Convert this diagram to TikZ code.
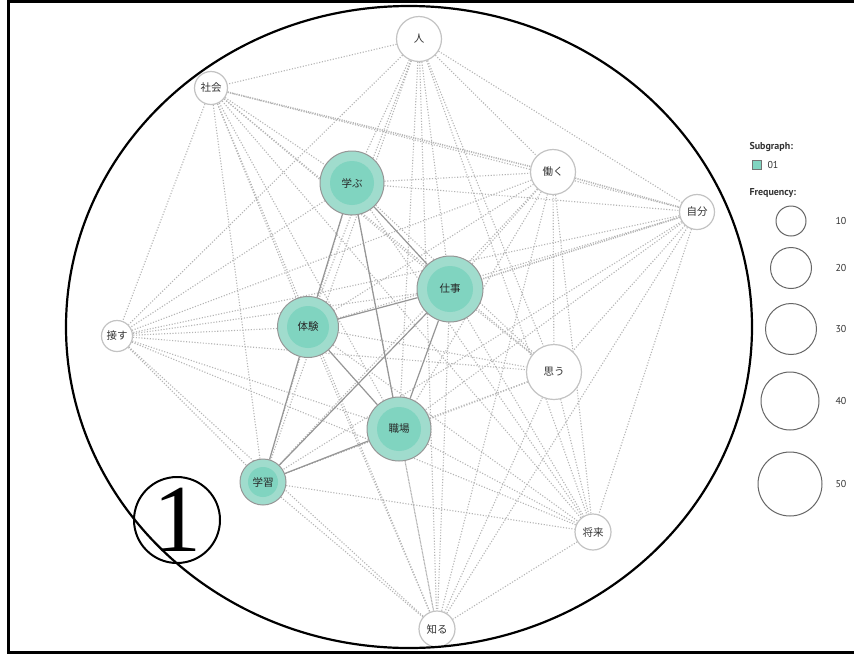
\documentclass[tikz,border=0pt]{standalone}
\usepackage{fontspec}
\setmainfont{Liberation Serif}
\newfontfamily\jp{Noto Sans CJK JP}
\newfontfamily\legfont{PT Sans}
\usetikzlibrary{backgrounds}
\definecolor{tealout}{RGB}{160,220,205}
\definecolor{tealin}{RGB}{128,212,192}
\definecolor{nodeborder}{RGB}{150,150,150}
\definecolor{wborder}{RGB}{195,195,195}
\definecolor{edgegray}{RGB}{180,180,180}
\definecolor{solidgray}{RGB}{150,150,150}
\tikzset{
  wnode/.style={circle, draw=wborder, line width=1.2pt, fill=white, inner sep=0pt, minimum size=#1, font=\jp\fontsize{10.5}{10.5}\selectfont, text=black!80},
  tnode/.style 2 args={circle, draw=nodeborder, line width=1pt, fill=tealout, inner sep=0pt, minimum size=#1, font=\jp\fontsize{10.5}{10.5}\selectfont, text=black!85,
    path picture={\fill[tealin] (path picture bounding box.center) circle (#2);}},
  dotedge/.style={draw=edgegray, line width=1.1pt, dash pattern=on 1.1pt off 1.7pt},
  thickdot/.style={draw=edgegray, line width=1.6pt, dash pattern=on 1.1pt off 1.2pt},
  soledge/.style={draw=solidgray, line width=1.2pt},
  legcirc/.style={circle, draw=black!60, line width=1pt, inner sep=0pt, minimum size=#1},
  legtext/.style={font=\legfont\fontsize{10}{10}\selectfont, text=black!80, anchor=west},
  leghead/.style={font=\legfont\bfseries\fontsize{10}{10}\selectfont, text=black!80, anchor=west}
}
\begin{document}
\begin{tikzpicture}[x=1pt,y=-1pt]
\useasboundingbox (0,0) rectangle (854,654);
% nodes
\node[wnode=45pt] (hito) at (419,39) {人};
\node[wnode=33pt] (shakai) at (211,88) {社会};
\node[tnode={64pt}{22pt}] (manabu) at (352,183) {学ぶ};
\node[wnode=45pt] (hataraku) at (553,172) {働く};
\node[wnode=35pt] (jibun) at (697,212) {自分};
\node[tnode={66pt}{23pt}] (shigoto) at (450,289) {仕事};
\node[tnode={61pt}{21pt}] (taiken) at (308,327) {体験};
\node[wnode=31pt] (sessu) at (117,336) {接す};
\node[wnode=55pt] (omou) at (554,372) {思う};
\node[tnode={64pt}{22pt}] (shokuba) at (399,429) {職場};
\node[tnode={46pt}{15pt}] (gakushu) at (263,482) {学習};
\node[wnode=36pt] (shourai) at (593,532) {将来};
\node[wnode=36pt] (shiru) at (437,629) {知る};
% edges
\begin{scope}[on background layer]
\fill[white] (0,0) rectangle (854,654);
\foreach \a/\b in {
hito/shakai,hito/manabu,hito/hataraku,hito/jibun,hito/shigoto,hito/taiken,hito/sessu,hito/omou,hito/shokuba,hito/gakushu,hito/shourai,hito/shiru,
shakai/manabu,shakai/shigoto,shakai/taiken,shakai/sessu,shakai/omou,shakai/shokuba,shakai/gakushu,shakai/shourai,shakai/shiru,shakai/jibun,
manabu/hataraku,manabu/jibun,manabu/sessu,manabu/omou,manabu/gakushu,manabu/shourai,manabu/shiru,
hataraku/shigoto,hataraku/taiken,hataraku/sessu,hataraku/omou,hataraku/shokuba,hataraku/gakushu,hataraku/shourai,hataraku/shiru,
jibun/taiken,jibun/sessu,jibun/omou,jibun/shokuba,jibun/gakushu,jibun/shourai,jibun/shiru,
shigoto/sessu,shigoto/omou,shigoto/shourai,shigoto/shiru,
taiken/sessu,taiken/omou,taiken/shourai,taiken/shiru,
sessu/omou,sessu/shokuba,sessu/gakushu,sessu/shourai,sessu/shiru,
omou/shokuba,omou/gakushu,omou/shourai,omou/shiru,
shokuba/shourai,shokuba/shiru,
gakushu/shourai,gakushu/shiru,
shourai/shiru}
  \draw[dotedge] (\a) -- (\b);
\draw[thickdot] (shakai) -- (hataraku);
\draw[thickdot] (hataraku) -- (jibun);
\draw[thickdot] (jibun) -- (shigoto);
\foreach \a/\b in {manabu/taiken,manabu/shokuba,manabu/shigoto,taiken/shigoto,shigoto/shokuba,shigoto/gakushu,taiken/shokuba,taiken/gakushu,shokuba/gakushu}
  \draw[soledge] (\a) -- (\b);
\end{scope}
% big ellipse
\draw[black, line width=2.2pt] (409,327) ellipse [x radius=343pt, y radius=321pt];
% circled one
\node[circle, draw=black, line width=2pt, minimum size=86pt, inner sep=0pt, font=\fontsize{96}{96}\selectfont] (one) at (177,520) {1};
% frame
\draw[black, line width=3pt] (854,1.5) -- (8,1.5) -- (8,652.5) -- (854,652.5);
% legend
\node[leghead] (subg) at (746,147) {Subgraph:};
\node[draw=black!55, fill=tealin, line width=0.8pt, minimum size=9pt, inner sep=0pt] (sq) at (757,165) {};
\node[legtext] (s01) at (764,165) {01};
\node[leghead] (freq) at (746,193) {Frequency:};
\node[legcirc=30pt] (c10) at (791,221) {};
\node[legcirc=41pt] (c20) at (791,268) {};
\node[legcirc=51pt] (c30) at (791,329) {};
\node[legcirc=58pt] (c40) at (790,401) {};
\node[legcirc=64pt] (c50) at (790,484) {};
\node[legtext] (l10) at (832,221) {10};
\node[legtext] (l20) at (832,268) {20};
\node[legtext] (l30) at (832,329) {30};
\node[legtext] (l40) at (832,401) {40};
\node[legtext] (l50) at (832,484) {50};
\end{tikzpicture}
\end{document}
